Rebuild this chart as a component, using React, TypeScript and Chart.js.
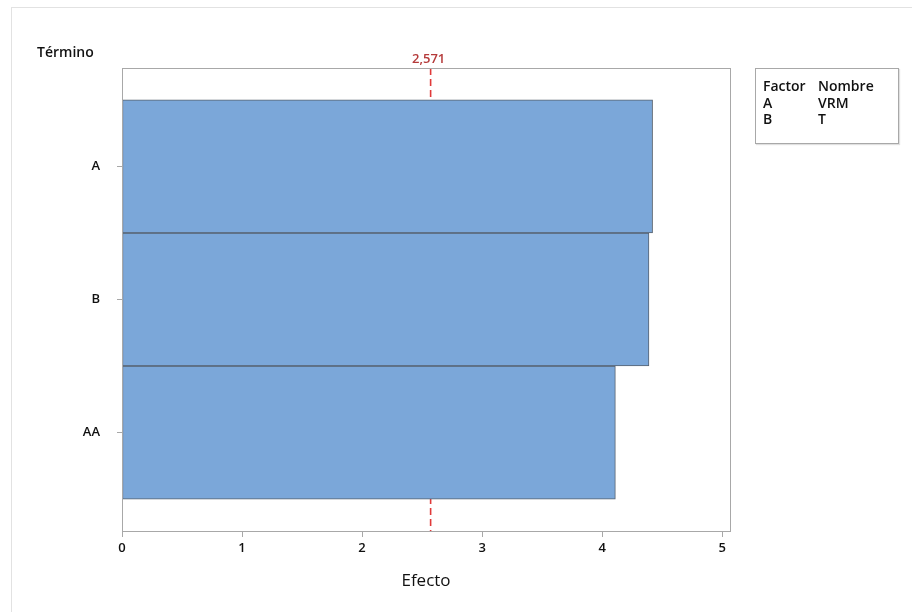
import React, { useEffect, useRef } from "react";
import { Chart, registerables } from "chart.js";

Chart.register(...registerables);

// Standardized effects (Pareto), largest first
const terms = ["A", "B", "AA"];
const effects = [4.42, 4.39, 4.11];
const criticalValue = 2.571;
const criticalLabel = "2,571";
const xTicks = [0, 1, 2, 3, 4, 5];
const factorCodes = ["A", "B"];
const factorNames = ["VRM", "T"];

const FONT = "'Open Sans', 'Noto Sans', sans-serif";

const annotations = {
  id: "paretoExtras",
  beforeDatasetsDraw(chart: any) {
    const { ctx, chartArea } = chart;
    const x = chart.scales.x.getPixelForValue(criticalValue);
    ctx.save();
    ctx.strokeStyle = "#e03a3a";
    ctx.lineWidth = 1.6;
    ctx.setLineDash([7, 4]);
    ctx.beginPath();
    ctx.moveTo(x, chartArea.top);
    ctx.lineTo(x, chartArea.bottom);
    ctx.stroke();
    ctx.restore();
  },
  afterDatasetsDraw(chart: any) {
    const { ctx, chartArea } = chart;
    ctx.save();
    ctx.strokeStyle = "#a8a8a8";
    ctx.lineWidth = 1;
    ctx.strokeRect(
      Math.round(chartArea.left) + 0.5,
      Math.round(chartArea.top) + 0.5,
      Math.round(chartArea.right - chartArea.left),
      Math.round(chartArea.bottom - chartArea.top)
    );
    const x = chart.scales.x.getPixelForValue(criticalValue);
    ctx.fillStyle = "#b53a3a";
    ctx.font = `600 13px ${FONT}`;
    ctx.textAlign = "center";
    ctx.textBaseline = "alphabetic";
    ctx.fillText(criticalLabel, x - 2, chartArea.top - 5);

    ctx.fillStyle = "#111";
    ctx.textAlign = "left";
    ctx.font = `600 14px ${FONT}`;
    ctx.fillText("Término", 37, 57);

    ctx.textAlign = "center";
    ctx.font = `17px ${FONT}`;
    ctx.fillText("Efecto", (chartArea.left + chartArea.right) / 2, 586);
    ctx.restore();
  },
};

export default function App() {
  const canvasRef = useRef<HTMLCanvasElement | null>(null);

  useEffect(() => {
    document.body.style.margin = "0";
    const canvas = canvasRef.current;
    if (!canvas) return;
    const chart = new Chart(canvas, {
      type: "bar",
      data: {
        datasets: [
          {
            data: effects.map((v, i) => ({ x: v, y: i })),
            backgroundColor: "#7ba7d9",
            borderColor: "#56606d",
            borderWidth: 1,
            borderSkipped: false,
            categoryPercentage: 1,
            barPercentage: 1,
          },
        ],
      },
      options: {
        indexAxis: "y",
        responsive: false,
        animation: false,
        events: [],
        layout: { padding: { left: 0, top: 68, right: 182, bottom: 0 } },
        plugins: { legend: { display: false }, tooltip: { enabled: false } },
        scales: {
          x: {
            type: "linear",
            min: 0,
            max: 5.065,
            afterFit(scale: any) {
              scale.height = 81;
            },
            afterBuildTicks(scale: any) {
              scale.ticks = xTicks.map((v) => ({ value: v }));
            },
            border: { display: false },
            grid: {
              drawOnChartArea: false,
              drawTicks: true,
              tickLength: 6,
              color: "#a8a8a8",
            },
            ticks: {
              padding: 3,
              color: "#111",
              font: { family: FONT, size: 13, weight: "600" },
              callback: (v: any) => String(v),
            },
          },
          y: {
            type: "linear",
            reverse: true,
            offset: false,
            min: -0.74,
            max: 2.74,
            afterFit(scale: any) {
              scale.width = 122;
            },
            afterBuildTicks(scale: any) {
              scale.ticks = terms.map((_, i) => ({ value: i }));
            },
            border: { display: false },
            grid: {
              offset: false,
              drawOnChartArea: false,
              drawTicks: true,
              tickLength: 5,
              color: "#a8a8a8",
            },
            ticks: {
              padding: 17,
              color: "#111",
              font: { family: FONT, size: 13, weight: "600" },
              callback: (v: any) => terms[Number(v)] ?? "",
            },
          },
        },
      },
      plugins: [annotations],
    });
    return () => chart.destroy();
  }, []);

  const cell: React.CSSProperties = { padding: 0, lineHeight: "16.5px" };

  return (
    <div style={{ position: "relative", width: 912, height: 612, background: "#fff", overflow: "hidden" }}>
      <div
        style={{
          position: "absolute",
          left: 11,
          top: 7,
          right: -2,
          bottom: -2,
          borderTop: "1px solid #e2e2e2",
          borderLeft: "1px solid #e2e2e2",
        }}
      />
      <canvas ref={canvasRef} width={912} height={612} style={{ position: "absolute", left: 0, top: 0 }} />
      <div
        style={{
          position: "absolute",
          left: 755,
          top: 68,
          width: 144,
          height: 76,
          border: "1px solid #a8a8a8",
          boxShadow: "1px 1px 1px rgba(0,0,0,0.12)",
          fontFamily: FONT,
          fontSize: 14,
          fontWeight: 600,
          color: "#111",
          boxSizing: "border-box",
          padding: "9px 0 0 7px",
        }}
      >
        <table style={{ borderCollapse: "collapse", fontSize: 14 }}>
          <tbody>
            <tr>
              <td style={{ ...cell, width: 55 }}>Factor</td>
              <td style={cell}>Nombre</td>
            </tr>
            {factorCodes.map((c, i) => (
              <tr key={c}>
                <td style={cell}>{c}</td>
                <td style={cell}>{factorNames[i]}</td>
              </tr>
            ))}
          </tbody>
        </table>
      </div>
    </div>
  );
}
